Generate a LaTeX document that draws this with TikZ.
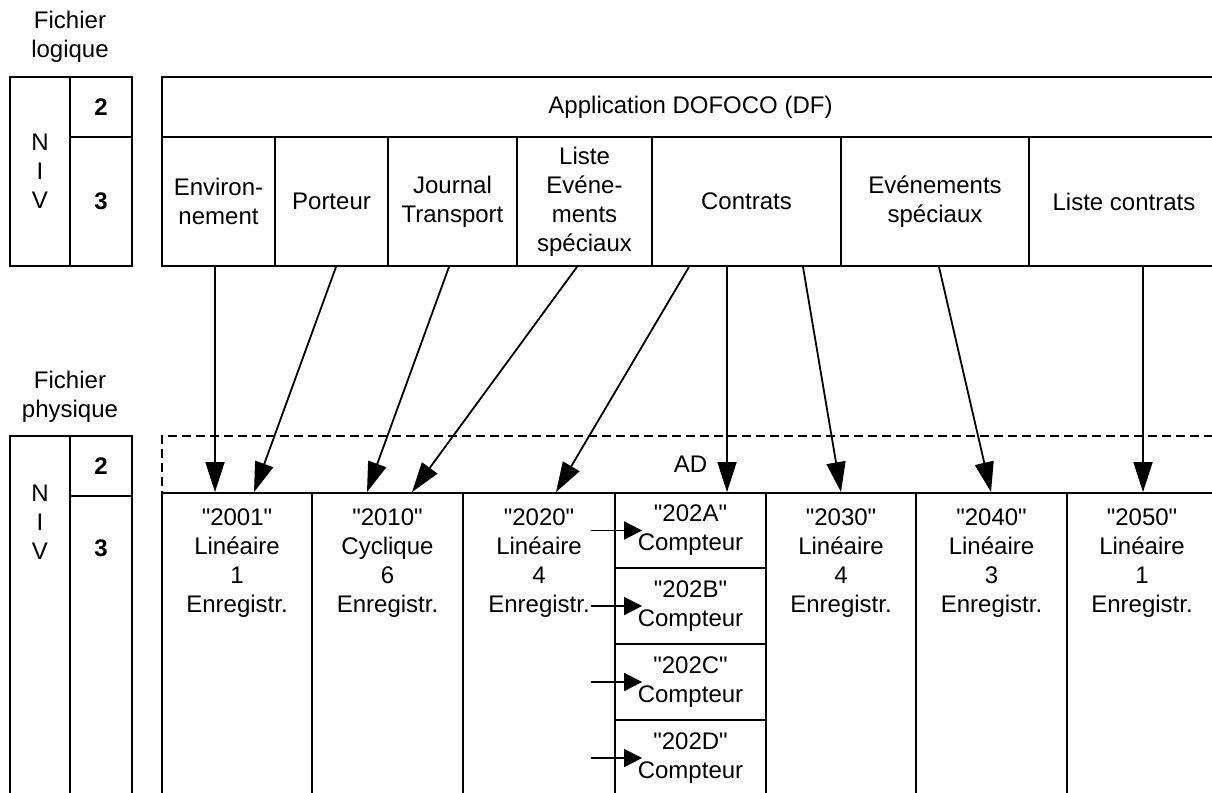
\documentclass[tikz,border=0pt]{standalone}
\usepackage{fontspec}
\setmainfont{Liberation Sans}[Ligatures=TeXOff]
\usetikzlibrary{arrows.meta,positioning}
\tikzset{
	% boxes of the logical and physical file tables
	cell/.style={rectangle,draw,line width=1.8pt,inner sep=0,align=center},
	dash box/.style={rectangle,draw,dash pattern=on 9pt off 5pt,line width=1.8pt,inner sep=0},
	plain text/.style={inner sep=0,align=center},
	% arrows from logical to physical file
	map arrow/.style={line width=1.8pt,-{Triangle[length=30pt,width=19pt]}},
	link arrow/.style={line width=1.8pt,-{Triangle[length=18pt,width=18pt]}}
}
\begin{document}
\begin{tikzpicture}[x=1pt, y=-1pt, font=\fontsize{24}{29}\selectfont]

  \useasboundingbox (0,0) rectangle (1212,792);
  \clip (0,0) rectangle (1212,792);

  %% logical file
  \node(flog) at (70, 37) [plain text]{Fichier\\logique};
  \node(niv) at (40, 171.5) [cell, minimum width=60pt, minimum height=189pt]{N\\I\\V};
  \node(lv2) at (101, 107) [cell, minimum width=62pt, minimum height=60pt]{\bfseries 2};
  \node(lv3) at (101, 201.5) [cell, minimum width=62pt, minimum height=129pt]{\bfseries 3};

  \node(app) at (690.5, 107) [cell, minimum width=1057pt, minimum height=60pt]{Application DOFOCO (DF)};
  \node(env) at (218.5, 201.5) [cell, minimum width=113pt, minimum height=129pt]{Environ-\\nement};
  \node(port) at (331.5, 201.5) [cell, minimum width=113pt, minimum height=129pt]{Porteur};
  \node(journ) at (452.5, 201.5) [cell, minimum width=129pt, minimum height=129pt]{Journal\\Transport};
  \node(liste) at (584.5, 201.5) [cell, minimum width=135pt, minimum height=129pt]{Liste\\Evéne-\\ments\\spéciaux};
  \node(contr) at (746.5, 201.5) [cell, minimum width=189pt, minimum height=129pt]{Contrats};
  \node(evsp) at (935, 201.5) [cell, minimum width=188pt, minimum height=129pt]{Evénements\\spéciaux};
  \node(lcontr) at (1124, 201.5) [cell, minimum width=190pt, minimum height=129pt]{Liste contrats};

  %% physical file
  \node(fphys) at (70, 397) [plain text]{Fichier\\physique};
  \node(bniv) at (40, 618) [cell, minimum width=60pt, minimum height=364pt]{};
  \node(bv2) at (101, 466) [cell, minimum width=62pt, minimum height=60pt]{\bfseries 2};
  \node(bv3) at (101, 648) [cell, minimum width=62pt, minimum height=304pt]{};
  \node(bnivtext) at (40, 522) [plain text]{N\\I\\V};
  \node(bv3text) at (101, 548) [plain text]{\bfseries 3};

  \node(ad) at (690.5, 464.5) [dash box, minimum width=1057pt, minimum height=57pt]{AD};

  \node(r2001) at (237, 646.5) [cell, minimum width=150pt, minimum height=307pt]{};
  \node(r2010) at (387.5, 646.5) [cell, minimum width=151pt, minimum height=307pt]{};
  \node(r2020) at (539, 646.5) [cell, minimum width=152pt, minimum height=307pt]{};
  \node(r2030) at (841, 646.5) [cell, minimum width=150pt, minimum height=307pt]{};
  \node(r2040) at (991.5, 646.5) [cell, minimum width=151pt, minimum height=307pt]{};
  \node(r2050) at (1142, 646.5) [cell, minimum width=150pt, minimum height=307pt]{};

  \node[plain text, below=16pt of r2001.north]{"2001"\\Linéaire\\1\\Enregistr.};
  \node[plain text, below=16pt of r2010.north]{"2010"\\Cyclique\\6\\Enregistr.};
  \node[plain text, below=16pt of r2020.north]{"2020"\\Linéaire\\4\\Enregistr.};
  \node[plain text, below=16pt of r2030.north]{"2030"\\Linéaire\\4\\Enregistr.};
  \node[plain text, below=16pt of r2040.north]{"2040"\\Linéaire\\3\\Enregistr.};
  \node[plain text, below=16pt of r2050.north]{"2050"\\Linéaire\\1\\Enregistr.};

  \node(r202a) at (690.5, 530.5) [cell, minimum width=151pt, minimum height=75pt]{"202A"\\Compteur};
  \node(r202b) at (690.5, 606) [cell, minimum width=151pt, minimum height=76pt]{"202B"\\Compteur};
  \node(r202c) at (690.5, 682) [cell, minimum width=151pt, minimum height=76pt]{"202C"\\Compteur};
  \node(r202d) at (690.5, 758) [cell, minimum width=151pt, minimum height=76pt]{"202D"\\Compteur};

  %% logical -> physical
  \path[map arrow] ([xshift=-3.5pt]env.south) edge ([xshift=-22pt]r2001.north);
  \path[map arrow] ([xshift=4.5pt]port.south) edge ([xshift=17pt]r2001.north);
  \path[map arrow] ([xshift=-3.5pt]journ.south) edge ([xshift=-20.5pt]r2010.north);
  \path[map arrow] ([xshift=-7.5pt]liste.south) edge ([xshift=24.5pt]r2010.north);
  \path[map arrow] ([xshift=-57.5pt]contr.south) edge ([xshift=17pt]r2020.north);
  \path[map arrow] ([xshift=-19.5pt]contr.south) edge ([xshift=36.5pt]r202a.north);
  \path[map arrow] ([xshift=56.5pt]contr.south) edge (r2030.north);
  \path[map arrow] ([xshift=4pt]evsp.south) edge ([xshift=-0.5pt]r2040.north);
  \path[map arrow] ([xshift=19pt]lcontr.south) edge ([xshift=1pt]r2050.north);

  %% counters
  \path[link arrow] ([xshift=-23pt]r202a.west) edge ([xshift=28pt]r202a.west);
  \path[link arrow] ([xshift=-23pt]r202b.west) edge ([xshift=28pt]r202b.west);
  \path[link arrow] ([xshift=-23pt]r202c.west) edge ([xshift=28pt]r202c.west);
  \path[link arrow] ([xshift=-23pt]r202d.west) edge ([xshift=28pt]r202d.west);

\end{tikzpicture}
\end{document}
